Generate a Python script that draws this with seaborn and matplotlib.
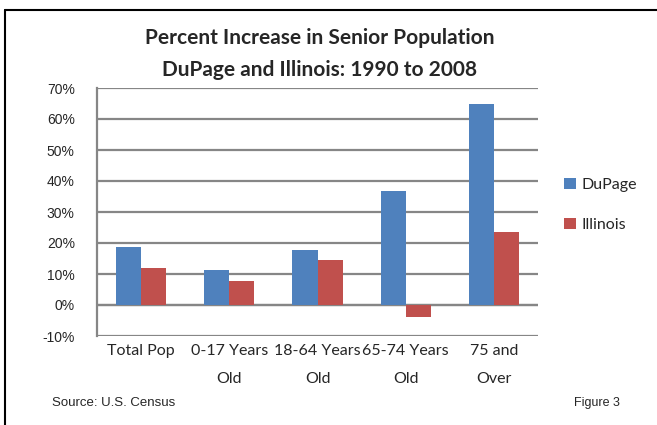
import matplotlib
matplotlib.use("Agg")
import matplotlib.pyplot as plt
from matplotlib.patches import Patch
from matplotlib.lines import Line2D
from matplotlib.ticker import FuncFormatter
import seaborn as sns
import pandas as pd

categories = ["Total Pop", "0-17 Years\nOld", "18-64 Years\nOld", "65-74 Years\nOld", "75 and\nOver"]
dupage = [18.8, 11.3, 17.9, 36.8, 64.9]
illinois = [12.0, 7.7, 14.5, -3.9, 23.7]
series = ["DuPage", "Illinois"]
colors = ["#4F81BD", "#C0504D"]

df = pd.DataFrame({
    "category": categories * 2,
    "value": dupage + illinois,
    "series": [series[0]] * len(categories) + [series[1]] * len(categories),
})

sns.set_style("white")
plt.rcParams["font.family"] = ["Lato", "DejaVu Sans"]

fig = plt.figure(figsize=(6.57, 4.25), dpi=100)
ax = fig.add_axes([97 / 657, 1 - 336 / 425, (538 - 97) / 657, (336 - 88) / 425])

sns.barplot(data=df, x="category", y="value", hue="series", palette=colors,
            width=0.57, saturation=1, ax=ax, legend=False, zorder=3,
            edgecolor="none")

ax.set_ylim(-10, 70)
ax.set_yticks(range(-10, 71, 10))
ax.yaxis.set_major_formatter(FuncFormatter(lambda v, _: f"{v:.0f}%"))
ax.set_xlim(-0.5, len(categories) - 0.5)
ax.set_xlabel("")
ax.set_ylabel("")

ax.yaxis.grid(True, color="#868686", linewidth=1.6, zorder=0)
ax.set_axisbelow(True)
for s in ["top", "right", "bottom"]:
    ax.spines[s].set_visible(False)
ax.spines["left"].set_color("#868686")
ax.spines["left"].set_linewidth(1.6)
ax.axhline(0, color="#868686", linewidth=1.6, zorder=2)

ax.tick_params(axis="both", length=0)
ax.tick_params(axis="y", pad=16)
ax.tick_params(axis="x", pad=6)
for lab in ax.get_yticklabels():
    lab.set_fontfamily(["Liberation Sans", "DejaVu Sans"])
    lab.set_fontsize(10)
for lab in ax.get_xticklabels():
    lab.set_fontsize(11.5)
    lab.set_linespacing(2.2)
    lab.set_verticalalignment("top")

fig.text(0.487, 1 - 38 / 425, "Percent Increase in Senior Population",
         ha="center", va="center", fontsize=15, fontweight="bold")
fig.text(0.487, 1 - 70 / 425, "DuPage and Illinois: 1990 to 2008",
         ha="center", va="center", fontsize=15, fontweight="bold")

handles = [Patch(facecolor=c, edgecolor="none") for c in colors]
fig.legend(handles, series, loc="center left",
           bbox_to_anchor=(550 / 657, 1 - 205 / 425), frameon=False,
           fontsize=11.5, handlelength=0.7, handleheight=0.7,
           handletextpad=0.4, labelspacing=1.6)

fig.text(52 / 657, 1 - 403 / 425, "Source: U.S. Census",
         ha="left", va="center", fontsize=9.5,
         family=["Liberation Sans", "DejaVu Sans"])
fig.text(620 / 657, 1 - 403 / 425, "Figure 3",
         ha="right", va="center", fontsize=9,
         family=["Liberation Sans", "DejaVu Sans"])

# frame along the top and left edges
fig.add_artist(Line2D([5 / 657, 5 / 657], [0, 1 - 10 / 425],
                      transform=fig.transFigure, color="black", linewidth=1.5))
fig.add_artist(Line2D([5 / 657, 1], [1 - 10 / 425, 1 - 10 / 425],
                      transform=fig.transFigure, color="black", linewidth=1.5))

fig.savefig("out.png", dpi=100)
